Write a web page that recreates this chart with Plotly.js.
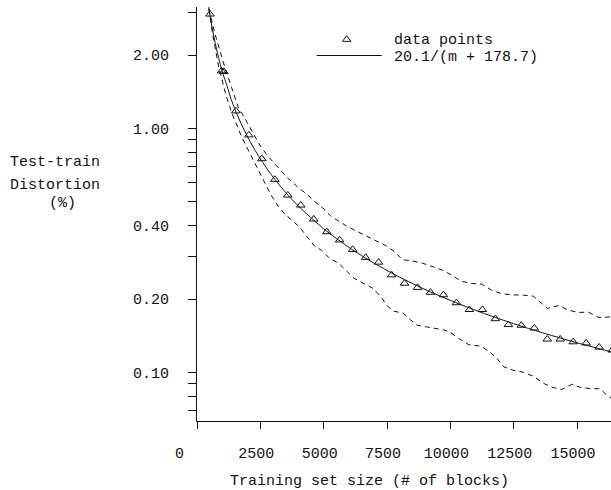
<!DOCTYPE html>
<html>
<head>
<meta charset="utf-8">
<script src="https://cdn.plot.ly/plotly-3.0.1.min.js"></script>
<style>html,body{margin:0;padding:0;background:#fff;}#chart{width:611px;height:490px;}</style>
</head>
<body>
<div id="chart"></div>
<script>
// ---- data ----
var pointM = [512, 970, 1060, 1536, 2048, 2560, 3072, 3584, 4096, 4608, 5120, 5632, 6144, 6656, 7168, 7680, 8192, 8704, 9216, 9728, 10240, 10752, 11264, 11776, 12288, 12800, 13312, 13824, 14336, 14848, 15360, 15872, 16384];
var pointV = [2.94, 1.72, 1.71, 1.179, 0.940, 0.751, 0.618, 0.533, 0.485, 0.425, 0.377, 0.349, 0.319, 0.296, 0.283, 0.251, 0.232, 0.223, 0.213, 0.208, 0.193, 0.181, 0.181, 0.166, 0.157, 0.156, 0.152, 0.137, 0.137, 0.1335, 0.132, 0.127, 0.1235];

var fitM = [400, 500, 600, 700, 800, 900, 1000, 1200, 1350, 1500, 1750, 2000, 2250, 2500, 3000, 3500, 4000, 5000, 6000, 7000, 8000, 9000, 10000, 11000, 12000, 13000, 14000, 15000, 16000, 16500];
var fitV = [3.473, 2.959, 2.580, 2.287, 2.053, 1.863, 1.705, 1.480, 1.315, 1.197, 1.042, 0.9226, 0.8276, 0.7504, 0.6323, 0.5464, 0.4810, 0.3881, 0.3253, 0.2800, 0.2458, 0.2190, 0.1975, 0.1798, 0.1650, 0.1525, 0.1418, 0.1324, 0.1242, 0.1205];

var upperM = [383, 699, 1094, 1359, 1620, 1884, 2082, 2477, 2793, 3149, 3583, 3978, 4334, 4650, 4966, 5309, 5637, 5965, 6360, 6755, 7087, 7455, 7810, 8107, 8470, 8877, 9323, 9718, 10082, 10418, 10840, 11235, 11630, 12025, 12484, 12879, 13274, 13606, 13835, 14289, 14656, 15051, 15446, 15849, 16225, 16501];
var upperV = [3.36, 2.462, 1.786, 1.483, 1.228, 1.103, 1.014, 0.855, 0.771, 0.701, 0.626, 0.575, 0.538, 0.501, 0.472, 0.435, 0.415, 0.395, 0.377, 0.359, 0.345, 0.331, 0.312, 0.290, 0.287, 0.281, 0.271, 0.262, 0.2496, 0.2368, 0.2318, 0.2302, 0.2176, 0.2104, 0.2080, 0.2075, 0.2055, 0.1919, 0.1830, 0.1883, 0.1801, 0.1763, 0.1768, 0.1681, 0.1694, 0.1694];

var lowerM = [423, 608, 857, 1055, 1161, 1292, 1422, 1620, 1766, 1963, 2161, 2358, 2556, 2754, 2951, 3200, 3465, 3792, 4057, 4322, 4650, 4914, 5242, 5598, 5902, 6190, 6558, 6953, 7257, 7546, 7771, 8138, 8442, 8679, 9062, 9457, 9785, 10062, 10378, 10734, 11208, 11563, 11840, 12116, 12472, 12879, 13274, 13669, 14001, 14396, 14791, 15138, 15514, 15909, 16186, 16501];
var lowerV = [3.36, 2.462, 1.786, 1.483, 1.349, 1.228, 1.124, 1.004, 0.922, 0.839, 0.764, 0.688, 0.626, 0.577, 0.528, 0.481, 0.446, 0.417, 0.394, 0.362, 0.329, 0.317, 0.293, 0.280, 0.261, 0.2436, 0.2324, 0.2210, 0.2042, 0.1858, 0.1784, 0.1751, 0.1639, 0.1563, 0.1538, 0.1515, 0.1491, 0.1445, 0.1369, 0.1300, 0.1282, 0.1212, 0.1141, 0.1055, 0.1022, 0.1003, 0.0966, 0.0904, 0.0871, 0.0852, 0.0895, 0.0868, 0.0860, 0.0858, 0.0807, 0.0763];

var xTickVals = [0, 2500, 5000, 7500, 10000, 12500, 15000];
var xTickText = ["0\u00a0\u00a0\u00a0", "2500", "5000", "7500", "10000", "12500", "15000"];
var yTickVals = [3, 2, 1, 0.9, 0.8, 0.7, 0.6, 0.5, 0.4, 0.3, 0.2, 0.1, 0.09, 0.08, 0.07];
var yTickText = ["", "2.00", "1.00", "", "", "", "", "", "0.40", "", "0.20", "0.10", "", "", ""];

var legendLabels = ["data points", "20.1/(m + 178.7)"];
var xTitle = "Training set size (# of blocks)";
var yTitleLines = ["Test-train", "Distortion", "(%)"];

// ---- layout helpers (pixel -> paper) ----
var W = 611, H = 490;
var L = 197, R = 0, T = 7, B = 69;
var PW = W - L - R, PH = H - T - B;
function px(x) { return (x - L) / PW; }
function py(y) { return (H - B - y) / PH; }

var FONT = "Liberation Mono, Courier New, monospace";
var INK = "#111";
var FS = 15;

var traces = [
  { x: upperM, y: upperV, mode: "lines", line: { color: INK, width: 1, dash: "5px,4px" }, hoverinfo: "skip", showlegend: false },
  { x: lowerM, y: lowerV, mode: "lines", line: { color: INK, width: 1, dash: "5px,4px" }, hoverinfo: "skip", showlegend: false },
  { x: fitM, y: fitV, mode: "lines", line: { color: INK, width: 1, shape: "spline", smoothing: 0.6 }, showlegend: false },
  { x: pointM, y: pointV, mode: "markers", marker: { symbol: "triangle-up-open", size: 7.5, color: INK, line: { width: 1, color: INK } }, showlegend: false },
  // legend symbols (drawn on an overlay axis pair spanning the plot area)
  { x: [px(346.7)], y: [py(39.5)], xaxis: "x2", yaxis: "y2", mode: "markers", cliponaxis: false,
    marker: { symbol: "triangle-up-open", size: 7.5, color: INK, line: { width: 1, color: INK } }, showlegend: false, hoverinfo: "skip" },
  { x: [px(316.7), px(381.7)], y: [py(55.5), py(55.5)], xaxis: "x2", yaxis: "y2", mode: "lines", cliponaxis: false,
    line: { color: INK, width: 1 }, showlegend: false, hoverinfo: "skip" }
];

function big(s) { return "<span style='font-size:" + FS + "px'>" + s + "</span>"; }

var ann = [];
// two legend lines in one text block, with a tight line step close to the reference's
ann.push({ text: big(legendLabels[0]) + "<br>" + big(legendLabels[1]), xref: "paper", yref: "paper",
  x: px(392), y: py(29.5), xanchor: "left", yanchor: "top", align: "left", showarrow: false,
  font: { family: FONT, size: 13.1, color: INK } });
ann.push({ text: xTitle, xref: "paper", yref: "paper", x: px(369.2), y: py(481), xanchor: "center", yanchor: "middle", showarrow: false, font: { family: FONT, size: FS, color: INK } });
ann.push({ text: yTitleLines[0], xref: "paper", yref: "paper", x: px(54.7), y: py(162), xanchor: "center", yanchor: "middle", showarrow: false, font: { family: FONT, size: FS, color: INK } });
ann.push({ text: yTitleLines[1], xref: "paper", yref: "paper", x: px(54.7), y: py(185.5), xanchor: "center", yanchor: "middle", showarrow: false, font: { family: FONT, size: FS, color: INK } });
ann.push({ text: yTitleLines[2], xref: "paper", yref: "paper", x: px(62.5), y: py(203.5), xanchor: "center", yanchor: "middle", showarrow: false, font: { family: FONT, size: FS, color: INK } });

var layout = {
  width: W, height: H,
  margin: { l: L, r: R, t: T, b: B, pad: 0 },
  paper_bgcolor: "#fff", plot_bgcolor: "#fff",
  showlegend: false,
  font: { family: FONT, size: FS, color: INK },
  xaxis: {
    range: [0, 16340], showgrid: false, zeroline: false,
    showline: true, linecolor: INK, linewidth: 1,
    ticks: "outside", ticklen: 7, tickwidth: 1, tickcolor: INK,
    tickmode: "array", tickvals: xTickVals, ticktext: xTickText,
    ticklabelstandoff: 11, ticklabelshift: -4,
    tickfont: { family: FONT, size: FS, color: INK }
  },
  yaxis: {
    type: "log", range: [Math.log10(0.0633), Math.log10(3.146)],
    showgrid: false, zeroline: false,
    showline: true, linecolor: INK, linewidth: 1,
    ticks: "outside", ticklen: 8, tickwidth: 1, tickcolor: INK,
    tickmode: "array", tickvals: yTickVals, ticktext: yTickText,
    ticklabelstandoff: 16,
    tickfont: { family: FONT, size: FS, color: INK }
  },
  xaxis2: { overlaying: "x", range: [0, 1], visible: false, fixedrange: true },
  yaxis2: { overlaying: "y", range: [0, 1], visible: false, fixedrange: true },
  annotations: ann
};

Plotly.newPlot("chart", traces, layout, { staticPlot: true, displayModeBar: false });
</script>
</body>
</html>
